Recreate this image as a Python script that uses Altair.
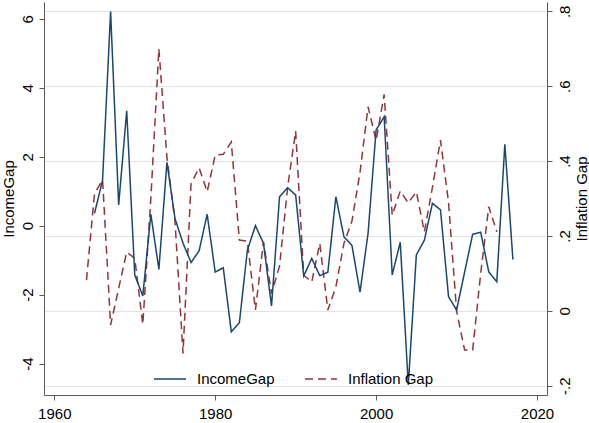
import altair as alt
import pandas as pd

# ---- data ----
income_years = list(range(1965, 2018))
income_gap = [0.36, 1.32, 6.21, 0.6, 3.33, -1.43, -2.04, 0.33, -1.27, 1.84,
              0.21, -0.51, -1.07, -0.73, 0.33, -1.35, -1.22, -3.08, -2.82, -0.71,
              0.0, -0.51, -2.33, 0.84, 1.1, 0.89, -1.46, -0.95, -1.45, -1.35,
              0.84, -0.32, -0.58, -1.93, -0.22, 2.78, 3.16, -1.43, -0.48, -4.62,
              -0.85, -0.42, 0.65, 0.46, -2.06, -2.45, -1.35, -0.25, -0.19, -1.34,
              -1.63, 2.36, -0.98]

infl_years = list(range(1964, 2016))
infl_gap = [0.082, 0.313, 0.35, -0.038, 0.06, 0.157, 0.14, -0.036, 0.30, 0.70,
            0.41, 0.24, -0.114, 0.34, 0.382, 0.318, 0.416, 0.418, 0.451, 0.189,
            0.186, 0.002, 0.184, 0.046, 0.12, 0.33, 0.48, 0.095, 0.077, 0.18,
            0.002, 0.064, 0.18, 0.24, 0.37, 0.545, 0.455, 0.578, 0.255, 0.32,
            0.288, 0.318, 0.211, 0.33, 0.456, 0.29, 0.0, -0.105, -0.105, 0.10,
            0.278, 0.211]

series_names = ["IncomeGap", "Inflation Gap"]
series_colors = ["#1a476f", "#90353b"]
x_ticks = [1960, 1980, 2000, 2020]
left_ticks = [-4, -2, 0, 2, 4, 6]
right_ticks = [-0.2, 0, 0.2, 0.4, 0.6, 0.8]

df_inc = pd.DataFrame({"year": income_years, "value": income_gap, "series": series_names[0]})
df_inf = pd.DataFrame({"year": infl_years, "value": infl_gap, "series": series_names[1]})

FONT = "Liberation Sans"
AXIS_COLOR = "#5a5a5a"
PLOT_H = 393

x_enc = alt.X(
    "year:Q",
    scale=alt.Scale(domain=[1958.72, 2021.24], nice=False, zero=False),
    axis=alt.Axis(values=x_ticks, format="d", title=None, grid=False,
                  labelPadding=6),
)

legend_opts = dict(
    title=None, orient="none", direction="horizontal",
    legendX=109, legendY=360, symbolType="stroke", symbolSize=1024,
    symbolStrokeWidth=1.5, labelOffset=10, columnPadding=27, padding=0,
    labelFont=FONT, labelFontSize=15, labelColor="black", labelLimit=0,
)

color_enc = alt.Color(
    "series:N",
    scale=alt.Scale(domain=series_names, range=series_colors),
    legend=alt.Legend(**legend_opts),
)
dash_enc = alt.StrokeDash(
    "series:N",
    scale=alt.Scale(domain=series_names, range=[[1, 0], [8, 5]]),
    legend=alt.Legend(**legend_opts),
)

inc_line = alt.Chart(df_inc).mark_line(strokeWidth=1.5).encode(
    x=x_enc,
    y=alt.Y(
        "value:Q",
        scale=alt.Scale(domain=[-4.914, 6.49], nice=False, zero=False),
        axis=alt.Axis(orient="left", values=left_ticks, title="IncomeGap", grid=False,
                      labelAngle=270, labelAlign="center", labelBaseline="bottom",
                      labelExpr="'' + datum.value", labelPadding=4,
                      titleAngle=270, titleX=-36, titleY=PLOT_H / 2,
                      titleAlign="center", titleBaseline="middle"),
    ),
    color=color_enc,
    strokeDash=dash_enc,
)

inf_line = alt.Chart(df_inf).mark_line(strokeWidth=1.5).encode(
    x=x_enc,
    y=alt.Y(
        "value:Q",
        scale=alt.Scale(domain=[-0.225, 0.825], nice=False, zero=False),
        axis=alt.Axis(orient="right", values=right_ticks, title="Inflation Gap",
                      grid=True, gridColor="#e3e3e3", gridWidth=1,
                      labelAngle=270, labelAlign="center", labelBaseline="top",
                      labelExpr="datum.value == 0 ? '0' : (datum.value < 0 ? '-' : '') + substring(format(abs(datum.value), '.1f'), 1)",
                      labelPadding=5,
                      titleAngle=270, titleX=34, titleY=PLOT_H / 2,
                      titleAlign="center", titleBaseline="middle"),
    ),
    color=color_enc,
    strokeDash=dash_enc,
)

chart = (
    alt.layer(inf_line, inc_line)
    .resolve_scale(y="independent")
    .properties(
        width=503, height=PLOT_H,
        autosize=alt.AutoSizeParams(type="none"),
        padding={"left": 44, "top": 2, "right": 42, "bottom": 28},
    )
    .configure_view(stroke=None)
    .configure_axis(
        labelFont=FONT, labelFontSize=15, labelColor="black",
        titleFont=FONT, titleFontSize=15, titleColor="black", titleFontWeight="normal",
        domainColor=AXIS_COLOR, tickColor=AXIS_COLOR, tickSize=5, domainWidth=1, tickWidth=1,
    )
)

chart.save("out.html", embed_options={"renderer": "svg", "actions": False})
